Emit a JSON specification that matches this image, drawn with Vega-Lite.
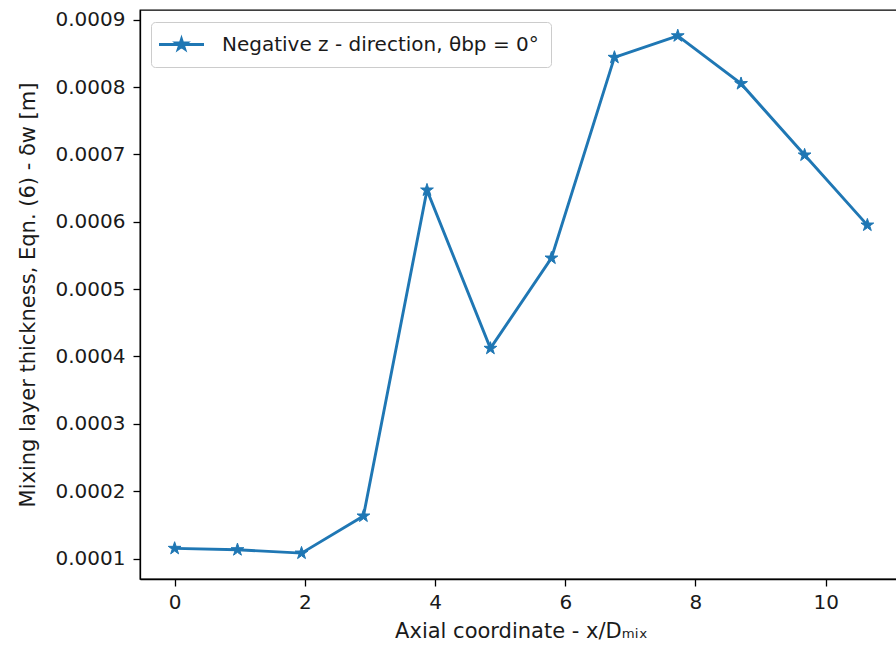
{
  "$schema": "https://vega.github.io/schema/vega-lite/v6.json",
  "width": 762,
  "height": 569,
  "autosize": "none",
  "padding": {"left": 140, "top": 10, "right": 0, "bottom": 71},
  "background": "white",
  "config": {
    "font": "DejaVu Sans",
    "view": {"stroke": "#000000", "strokeWidth": 1.3},
    "axis": {
      "grid": false,
      "domainColor": "#000000",
      "domainWidth": 1.3,
      "tickColor": "#000000",
      "tickWidth": 1.3,
      "tickSize": 7,
      "labelFont": "DejaVu Sans",
      "labelFontSize": 20,
      "labelColor": "#1a1a1a",
      "titleFont": "DejaVu Sans",
      "titleFontSize": 21,
      "titleFontWeight": "normal",
      "titleColor": "#1a1a1a"
    },
    "legend": {
      "labelFont": "DejaVu Sans",
      "labelFontSize": 20,
      "labelColor": "#1a1a1a",
      "labelLimit": 0
    }
  },
  "data": {
    "values": [
      {"x": 0, "y": 0.000115, "series": "Negative z - direction, θbp = 0°"},
      {"x": 0.965, "y": 0.000113, "series": "Negative z - direction, θbp = 0°"},
      {"x": 1.949, "y": 0.000108, "series": "Negative z - direction, θbp = 0°"},
      {"x": 2.9, "y": 0.000163, "series": "Negative z - direction, θbp = 0°"},
      {"x": 3.876, "y": 0.000647, "series": "Negative z - direction, θbp = 0°"},
      {"x": 4.85, "y": 0.000412, "series": "Negative z - direction, θbp = 0°"},
      {"x": 5.787, "y": 0.000546, "series": "Negative z - direction, θbp = 0°"},
      {"x": 6.755, "y": 0.000844, "series": "Negative z - direction, θbp = 0°"},
      {"x": 7.728, "y": 0.000876, "series": "Negative z - direction, θbp = 0°"},
      {"x": 8.7, "y": 0.000805, "series": "Negative z - direction, θbp = 0°"},
      {"x": 9.676, "y": 0.000699, "series": "Negative z - direction, θbp = 0°"},
      {"x": 10.64, "y": 0.000595, "series": "Negative z - direction, θbp = 0°"}
    ]
  },
  "encoding": {
    "x": {
      "field": "x",
      "type": "quantitative",
      "scale": {"domain": [-0.532, 11.172], "nice": false, "zero": false},
      "axis": {
        "title": "Axial coordinate - x/Dₘᵢₓ",
        "values": [0, 2, 4, 6, 8, 10],
        "format": "d",
        "labelPadding": 6,
        "titlePadding": 8
      }
    },
    "y": {
      "field": "y",
      "type": "quantitative",
      "scale": {"domain": [0.0000696, 0.0009144], "nice": false, "zero": false},
      "axis": {
        "title": "Mixing layer thickness, Eqn. (6) - δw [m]",
        "values": [0.0001, 0.0002, 0.0003, 0.0004, 0.0005, 0.0006, 0.0007, 0.0008, 0.0009],
        "format": ".4f",
        "labelPadding": 8,
        "titlePadding": 17
      }
    },
    "color": {
      "field": "series",
      "type": "nominal",
      "scale": {"range": ["#1f77b4"]},
      "legend": {
        "title": null,
        "orient": "none",
        "legendX": 11,
        "legendY": 12,
        "padding": 12,
        "strokeColor": "#cccccc",
        "fillColor": "rgba(255,255,255,0.8)",
        "cornerRadius": 4,
        "symbolType": "M-2.5,0L2.5,0M0,-0.6L0.135,-0.186L0.571,-0.185L0.219,0.071L0.353,0.485L0,0.23L-0.353,0.485L-0.219,0.071L-0.571,-0.185L-0.135,-0.186Z",
        "symbolSize": 324,
        "symbolFillColor": "#1f77b4",
        "symbolStrokeColor": "#1f77b4",
        "symbolStrokeWidth": 2.8,
        "symbolOpacity": 1,
        "symbolOffset": 8,
        "labelOffset": 30
      }
    }
  },
  "layer": [
    {
      "mark": {"type": "line", "strokeWidth": 2.9}
    },
    {
      "mark": {
        "type": "point",
        "filled": true,
        "opacity": 1,
        "shape": "M0,-1L0.225,-0.31L0.951,-0.309L0.365,0.118L0.588,0.809L0,0.382L-0.588,0.809L-0.365,0.118L-0.951,-0.309L-0.225,-0.31Z",
        "size": 180,
        "strokeWidth": 1,
        "stroke": "#1f77b4"
      }
    }
  ]
}
